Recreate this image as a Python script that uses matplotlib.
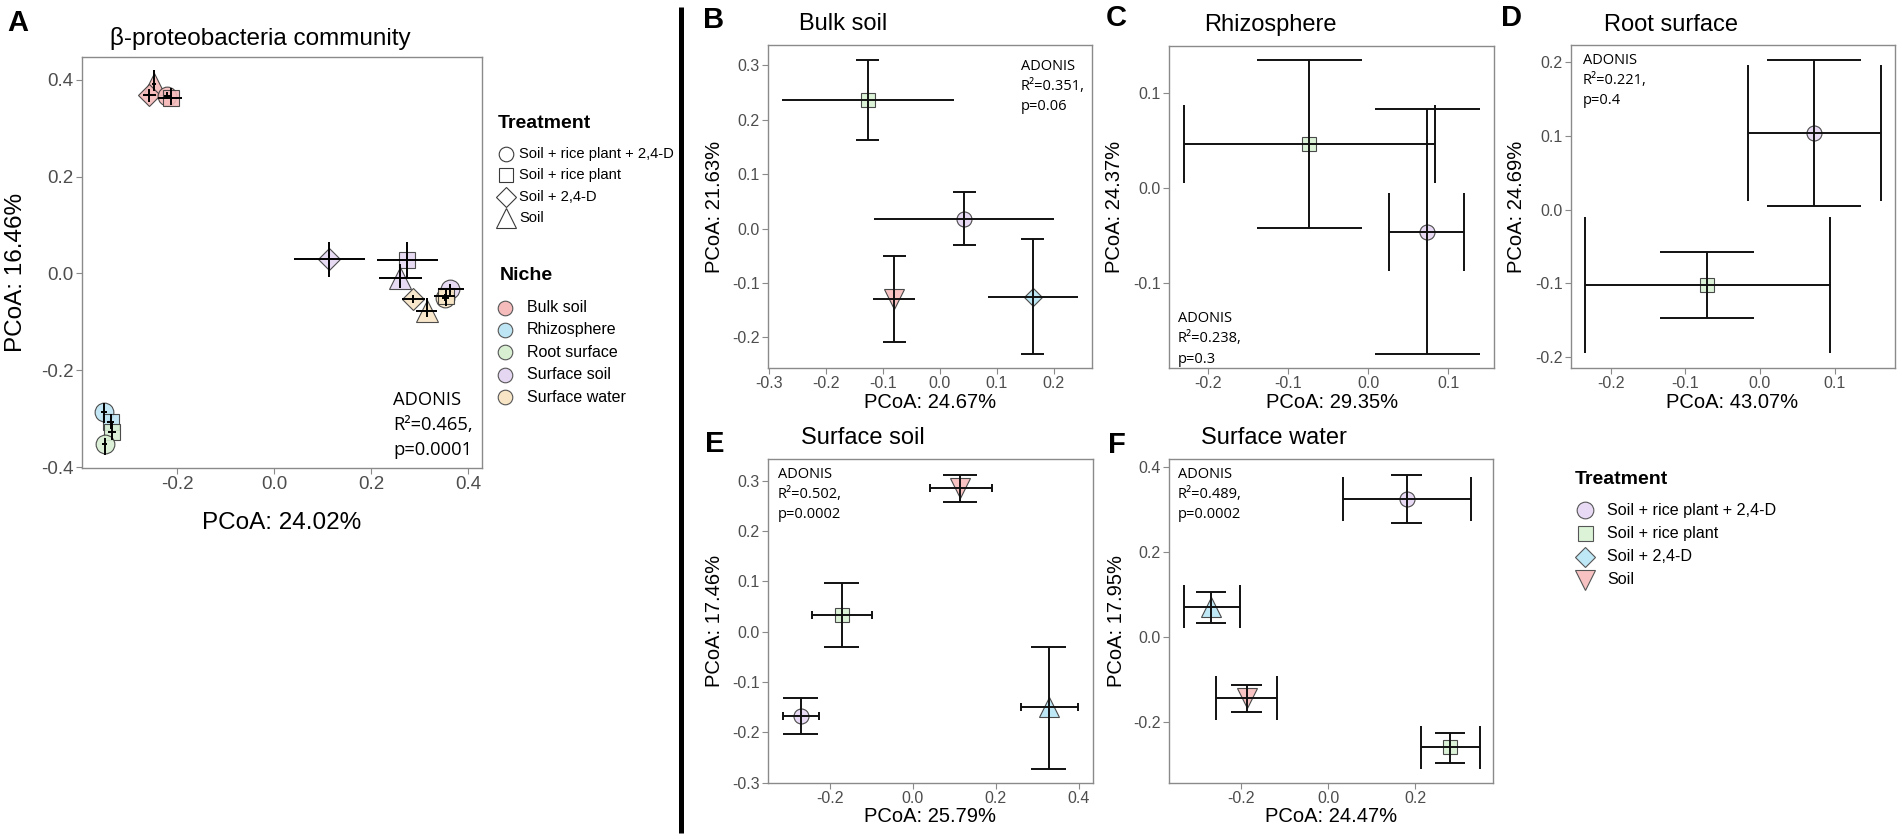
import matplotlib
matplotlib.use("Agg")
import matplotlib.pyplot as plt

W, H, DPI = 1902, 840, 100
plt.rcParams['font.family'] = ['Liberation Sans', 'DejaVu Sans']

# ---------------- data ----------------
treatments = ["Soil + rice plant + 2,4-D", "Soil + rice plant", "Soil + 2,4-D", "Soil"]
niches = ["Bulk soil", "Rhizosphere", "Root surface", "Surface soil", "Surface water"]
niche_colors = ["#F6BBBB", "#BEE5F4", "#D8EFD2", "#E5D7F2", "#F8E5C6"]

# Panel A (all niches)
a_niche = ["Bulk soil"] * 4 + ["Surface soil"] * 4 + ["Surface water"] * 4 + \
          ["Rhizosphere"] * 2 + ["Root surface"] * 2
a_treat = ["Soil", "Soil + 2,4-D", "Soil + rice plant + 2,4-D", "Soil + rice plant",
           "Soil + 2,4-D", "Soil + rice plant", "Soil", "Soil + rice plant + 2,4-D",
           "Soil + rice plant + 2,4-D", "Soil + 2,4-D", "Soil", "Soil + rice plant",
           "Soil + rice plant + 2,4-D", "Soil + rice plant",
           "Soil + rice plant", "Soil + rice plant + 2,4-D"]
a_x = [-0.248, -0.258, -0.221, -0.213, 0.113, 0.2735, 0.259, 0.363,
       0.352, 0.286, 0.314, 0.353, -0.3515, -0.337, -0.335, -0.350]
a_y = [0.392, 0.369, 0.367, 0.363, 0.029, 0.028, -0.009, -0.033,
       -0.050, -0.053, -0.077, -0.047, -0.287, -0.306, -0.327, -0.352]
a_xlo = [-0.252, -0.270, -0.228, -0.240, 0.040, 0.2125, 0.215, 0.338,
         0.345, 0.2625, 0.292, 0.329, -0.358, -0.345, -0.343, -0.356]
a_xhi = [-0.244, -0.244, -0.214, -0.190, 0.1875, 0.3375, 0.305, 0.391,
         0.360, 0.310, 0.336, 0.373, -0.344, -0.330, -0.327, -0.344]
a_ylo = [0.376, 0.355, 0.360, 0.347, -0.008, -0.009, -0.031, -0.045,
         -0.058, -0.062, -0.090, -0.067, -0.310, -0.322, -0.345, -0.375]
a_yhi = [0.420, 0.380, 0.374, 0.382, 0.064, 0.065, 0.019, -0.022,
         -0.042, -0.044, -0.050, -0.032, -0.268, -0.290, -0.310, -0.340]

# Panel B  Bulk soil
b_treat = ["Soil + rice plant", "Soil + rice plant + 2,4-D", "Soil", "Soil + 2,4-D"]
b_x = [-0.127, 0.043, -0.080, 0.163]
b_y = [0.236, 0.018, -0.130, -0.125]
b_xlo = [-0.278, -0.115, -0.117, 0.084]
b_xhi = [0.025, 0.200, -0.043, 0.243]
b_ylo = [0.163, -0.031, -0.208, -0.230]
b_yhi = [0.310, 0.068, -0.051, -0.020]

# Panel C  Rhizosphere
c_treat = ["Soil + rice plant", "Soil + rice plant + 2,4-D"]
c_x = [-0.073, 0.074]
c_y = [0.046, -0.047]
c_xlo = [-0.229, 0.026]
c_xhi = [0.0835, 0.120]
c_ylo = [-0.043, -0.175]
c_yhi = [0.134, 0.0825]

# Panel D  Root surface
d_treat = ["Soil + rice plant + 2,4-D", "Soil + rice plant"]
d_x = [0.073, -0.0705]
d_y = [0.104, -0.102]
d_xlo = [-0.016, -0.234]
d_xhi = [0.162, 0.094]
d_ylo = [0.0054, -0.147]
d_yhi = [0.203, -0.0577]

# Panel E  Surface soil
e_treat = ["Soil", "Soil + rice plant", "Soil + rice plant + 2,4-D", "Soil + 2,4-D"]
e_x = [0.114, -0.171, -0.270, 0.328]
e_y = [0.2857, 0.033, -0.167, -0.150]
e_xlo = [0.041, -0.244, -0.312, 0.260]
e_xhi = [0.190, -0.098, -0.227, 0.398]
e_ylo = [0.258, -0.031, -0.203, -0.273]
e_yhi = [0.312, 0.097, -0.131, -0.031]

# Panel F  Surface water
f_treat = ["Soil + rice plant + 2,4-D", "Soil + 2,4-D", "Soil", "Soil + rice plant"]
f_x = [0.1795, -0.269, -0.188, 0.279]
f_y = [0.3256, 0.072, -0.143, -0.259]
f_xlo = [0.033, -0.332, -0.258, 0.212]
f_xhi = [0.327, -0.203, -0.1186, 0.349]
f_ylo = [0.269, 0.035, -0.176, -0.295]
f_yhi = [0.383, 0.1075, -0.111, -0.224]

adonis = {"A": ("0.465", "0.0001"), "B": ("0.351", "0.06"), "C": ("0.238", "0.3"),
          "D": ("0.221", "0.4"), "E": ("0.502", "0.0002"), "F": ("0.489", "0.0002")}
xlabels = {"A": "PCoA: 24.02%", "B": "PCoA: 24.67%", "C": "PCoA: 29.35%",
           "D": "PCoA: 43.07%", "E": "PCoA: 25.79%", "F": "PCoA: 24.47%"}
ylabels = {"A": "PCoA: 16.46%", "B": "PCoA: 21.63%", "C": "PCoA: 24.37%",
           "D": "PCoA: 24.69%", "E": "PCoA: 17.46%", "F": "PCoA: 17.95%"}
titles = {"A": "β-proteobacteria community", "B": "Bulk soil", "C": "Rhizosphere",
          "D": "Root surface", "E": "Surface soil", "F": "Surface water"}

# ---------------- styles ----------------
a_marker = {"Soil + rice plant + 2,4-D": "o", "Soil + rice plant": "s",
            "Soil + 2,4-D": "D", "Soil": "^"}
a_msize = {"o": 13.5, "s": 11.5, "D": 11.5, "^": 15.5}
sub_marker = {"Soil + rice plant + 2,4-D": "o", "Soil + rice plant": "s",
              "Soil + 2,4-D": "D", "Soil": "v"}
sub_color = {"Soil + rice plant + 2,4-D": "#E8DAF5", "Soil + rice plant": "#DCF3D8",
             "Soil + 2,4-D": "#BFE8F6", "Soil": "#F8C2C2"}
sub_msize = {"o": 10.8, "s": 9.4, "D": 9.2, "v": 14.0, "^": 14.0}
marker_override = {"E": {"Soil + 2,4-D": "^"}, "F": {"Soil + 2,4-D": "^"}}

# axes boxes in pixels: left, top, right, bottom
boxes = {"A": (82, 57, 482, 468), "B": (768, 45, 1092, 368), "C": (1169, 45.5, 1494, 368),
         "D": (1571, 44.5, 1895, 368), "E": (768, 459, 1092.5, 782.7),
         "F": (1169, 458.5, 1493, 782.7)}
limits = {"A": ((-0.3965, 0.428), (-0.402, 0.447)),
          "B": ((-0.302, 0.267), (-0.256, 0.337)),
          "C": ((-0.248, 0.157), (-0.19, 0.1495)),
          "D": ((-0.253, 0.181), (-0.2145, 0.2235)),
          "E": ((-0.349, 0.4335), (-0.3, 0.343)),
          "F": ((-0.366, 0.378), (-0.342, 0.421))}
xticks = {"A": [-0.2, 0.0, 0.2, 0.4], "B": [-0.3, -0.2, -0.1, 0.0, 0.1, 0.2],
          "C": [-0.2, -0.1, 0.0, 0.1], "D": [-0.2, -0.1, 0.0, 0.1],
          "E": [-0.2, 0.0, 0.2, 0.4], "F": [-0.2, 0.0, 0.2]}
yticks = {"A": [-0.4, -0.2, 0.0, 0.2, 0.4], "B": [-0.2, -0.1, 0.0, 0.1, 0.2, 0.3],
          "C": [-0.1, 0.0, 0.1], "D": [-0.2, -0.1, 0.0, 0.1, 0.2],
          "E": [-0.3, -0.2, -0.1, 0.0, 0.1, 0.2, 0.3], "F": [-0.2, 0.0, 0.2, 0.4]}
# cap half sizes (x half width of vertical-bar caps, y half height of horizontal-bar caps)
caps = {"B": (0.02, 0.0), "C": (0.065, 0.041), "D": (0.063, 0.092),
        "E": (0.042, 0.008), "F": (0.035, 0.051)}
# label positions (px)
letter_pos = {"A": (7, 23), "B": (703, 20), "C": (1106, 18), "D": (1501, 18),
              "E": (705, 444), "F": (1108, 445)}
title_pos = {"A": (260, 38), "B": (843, 24), "C": (1270, 25), "D": (1671, 25),
             "E": (863, 438), "F": (1274, 438)}
xlab_pos = {"A": (282, 523), "B": (930, 402), "C": (1332, 402), "D": (1732, 402),
            "E": (930, 816), "F": (1331, 816)}
ylab_pos = {"A": (16, 272), "B": (715, 207), "C": (1114, 207), "D": (1517, 207),
            "E": (714, 621), "F": (1116, 621)}
adonis_pos = {"A": (393, 400, 25), "B": (1021, 67, 19.5), "C": (1178, 319, 20),
              "D": (1583, 60, 20), "E": (778, 475, 19.5), "F": (1178, 475, 19.5)}

fig = plt.figure(figsize=(W / DPI, H / DPI), dpi=DPI)


def fx(x):
    return x / W


def fy(y):
    return 1 - y / H


def make_axes(key, tick_size):
    l, t, r, b = boxes[key]
    ax = fig.add_axes([fx(l), fy(b), (r - l) / W, (b - t) / H])
    ax.set_xlim(*limits[key][0])
    ax.set_ylim(*limits[key][1])
    ax.set_xticks(xticks[key])
    ax.set_yticks(yticks[key])
    ax.xaxis.set_major_formatter(matplotlib.ticker.FormatStrFormatter('%.1f'))
    ax.yaxis.set_major_formatter(matplotlib.ticker.FormatStrFormatter('%.1f'))
    for s in ax.spines.values():
        s.set_color('#8A8A8A')
        s.set_linewidth(1.0)
    ax.tick_params(direction='out', length=4, width=0.8, color='#8A8A8A',
                   labelcolor='#4D4D4D', labelsize=tick_size, pad=2)
    return ax


def labels(key, lab_size, title_size, adonis_size):
    fig.text(fx(letter_pos[key][0]), fy(letter_pos[key][1]), key, fontsize=21,
             fontweight='bold', ha='left', va='center')
    fig.text(fx(title_pos[key][0]), fy(title_pos[key][1]), titles[key],
             fontsize=title_size, ha='center', va='center')
    fig.text(fx(xlab_pos[key][0]), fy(xlab_pos[key][1]), xlabels[key],
             fontsize=lab_size, ha='center', va='center')
    fig.text(fx(ylab_pos[key][0]), fy(ylab_pos[key][1]), ylabels[key],
             fontsize=lab_size, ha='center', va='center', rotation=90)
    r2, p = adonis[key]
    x0, y0, dy = adonis_pos[key]
    for i, s in enumerate(["ADONIS", "R²=" + r2 + ",", "p=" + p]):
        fig.text(fx(x0), fy(y0 + i * dy), s, fontsize=adonis_size,
                 family=['Open Sans', 'DejaVu Sans'], ha='left', va='center')


# ---------------- Panel A ----------------
axA = make_axes("A", 13.5)
for i in range(len(a_x)):
    col = niche_colors[niches.index(a_niche[i])]
    m = a_marker[a_treat[i]]
    axA.plot(a_x[i], a_y[i], marker=m, ms=a_msize[m], mfc=col, mec='#3A3A3A',
             mew=0.8, alpha=0.9, zorder=2, ls='none')
axA.hlines(a_y, a_xlo, a_xhi, color='black', lw=1.4, zorder=3)
axA.vlines(a_x, a_ylo, a_yhi, color='black', lw=1.4, zorder=3)
labels("A", 17.5, 17.5, 13.2)

# ---------------- Panels B-F ----------------
sub = {"B": (b_treat, b_x, b_y, b_xlo, b_xhi, b_ylo, b_yhi),
       "C": (c_treat, c_x, c_y, c_xlo, c_xhi, c_ylo, c_yhi),
       "D": (d_treat, d_x, d_y, d_xlo, d_xhi, d_ylo, d_yhi),
       "E": (e_treat, e_x, e_y, e_xlo, e_xhi, e_ylo, e_yhi),
       "F": (f_treat, f_x, f_y, f_xlo, f_xhi, f_ylo, f_yhi)}
for key, (tr, xs, ys, xlo, xhi, ylo, yhi) in sub.items():
    ax = make_axes(key, 11.5)
    vc, hc = caps[key]
    for i in range(len(xs)):
        m = marker_override.get(key, {}).get(tr[i], sub_marker[tr[i]])
        ax.plot(xs[i], ys[i], marker=m, ms=sub_msize[m], mfc=sub_color[tr[i]],
                mec='#4A4A4A', mew=0.8, zorder=2, ls='none')
    ax.hlines(ys, xlo, xhi, color='#111111', lw=1.4, zorder=3)
    ax.vlines(xs, ylo, yhi, color='#111111', lw=1.4, zorder=3)
    ax.hlines(ylo, [x - vc for x in xs], [x + vc for x in xs], color='#111111', lw=1.4, zorder=3)
    ax.hlines(yhi, [x - vc for x in xs], [x + vc for x in xs], color='#111111', lw=1.4, zorder=3)
    if hc > 0:
        ax.vlines(xlo, [y - hc for y in ys], [y + hc for y in ys], color='#111111', lw=1.4, zorder=3)
        ax.vlines(xhi, [y - hc for y in ys], [y + hc for y in ys], color='#111111', lw=1.4, zorder=3)
    labels(key, 14.5, 17, 10.5)

# ---------------- overlay: separator and legends ----------------
ov = fig.add_axes([0, 0, 1, 1])
ov.set_xlim(0, W)
ov.set_ylim(H, 0)
ov.axis('off')
ov.patch.set_alpha(0)
ov.plot([680.7, 680.7], [7, 833], color='black', lw=3.6, solid_capstyle='butt')

# legend A: treatment (hollow shapes)
leg_a_ms = {"o": 10.5, "s": 10.0, "D": 10.5, "^": 15.0}
ov.text(498, 124, "Treatment", fontsize=14, fontweight='bold', ha='left', va='center')
for i, t in enumerate(treatments):
    yy = 154 + i * 21.3
    m = a_marker[t]
    ov.plot(505.5, yy, marker=m, ms=leg_a_ms[m], mfc='white', mec='#3A3A3A', mew=0.8, ls='none')
    ov.text(519, yy, t, fontsize=10.6, ha='left', va='center')
# legend A: niche
ov.text(500, 276, "Niche", fontsize=14, fontweight='bold', ha='left', va='center')
for i, n in enumerate(niches):
    yy = 307.5 + i * 22.4
    ov.plot(505, yy, marker='o', ms=10.5, mfc=niche_colors[i], mec='#555555', mew=0.8, ls='none')
    ov.text(527, yy, n, fontsize=11.5, ha='left', va='center')

# legend bottom right
leg_b_ms = {"o": 12.0, "s": 10.8, "D": 9.8, "v": 15.0}
ov.text(1575, 479, "Treatment", fontsize=14, fontweight='bold', ha='left', va='center')
for i, t in enumerate(treatments):
    yy = 510 + i * 23.3
    m = sub_marker[t]
    ov.plot(1585, yy, marker=m, ms=leg_b_ms[m], mfc=sub_color[t], mec='#555555', mew=0.8, ls='none')
    ov.text(1607, yy, t, fontsize=11.6, ha='left', va='center')

fig.savefig("out.png", dpi=DPI)
